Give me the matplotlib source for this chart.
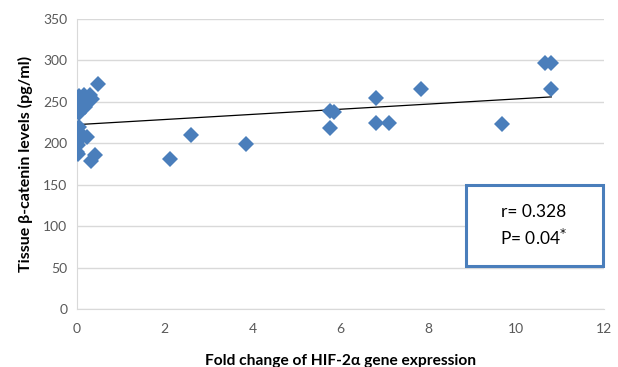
import numpy as np
import matplotlib
matplotlib.use('Agg')
import matplotlib.pyplot as plt
from matplotlib.patches import Rectangle

plt.rcParams['font.family'] = ['Lato', 'DejaVu Sans']

# Fold change of HIF-2a expression vs tissue beta-catenin (pg/ml)
fold_change = [0.48, 0.05, 0.15, 0.30, 0.35, 0.25, 0.12, 0.05, 0.18, 0.02, 0.05,
               0.05, 0.02, 0.08, 0.22, 0.00, 0.02, 0.00, 0.03, 0.40, 0.33,
               2.12, 2.60, 3.84, 5.75, 5.85, 5.75, 6.80, 6.80, 7.10, 7.83,
               9.68, 10.65, 10.80, 10.80]
beta_catenin = [272, 257, 258, 258, 254, 252, 250, 246, 244, 240, 236,
                220, 215, 210, 207, 202, 198, 190, 187, 186, 179,
                181, 210, 199, 239, 238, 219, 255, 225, 224, 265,
                223, 297, 297, 265]

trend_intercept = 222.5
trend_slope = 3.1

r_text = 'r= 0.328'
p_text = 'P= 0.04$^{*}$'

fig = plt.figure(figsize=(6.18, 3.67), dpi=100)
ax = fig.add_axes([77 / 618, 1 - 309 / 367, 527 / 618, 290 / 367])

ax.plot(fold_change, beta_catenin, 'D', color='#4a7ebb', markersize=8,
        markeredgewidth=0, zorder=3)

tx = np.array([min(fold_change), max(fold_change)])
ax.plot(tx, trend_intercept + trend_slope * tx, color='black', linewidth=0.9, zorder=2)

ax.set_xlim(0, 12)
ax.set_ylim(0, 350)
ax.set_xticks(range(0, 13, 2))
ax.set_yticks(range(0, 351, 50))
ax.grid(True, axis='y', color='#d9d9d9', linewidth=1)
ax.set_axisbelow(True)
for s in ['top', 'right']:
    ax.spines[s].set_visible(False)
ax.spines['left'].set_color('#d9d9d9')
ax.spines['bottom'].set_color('#d9d9d9')
ax.tick_params(length=0, labelsize=10, labelcolor='#595959')
ax.tick_params(axis='x', pad=10)
ax.tick_params(axis='y', pad=7)

ax.set_xlabel('Fold change of HIF-2α gene expression', fontsize=11.2, fontweight='bold', labelpad=14)
ax.set_ylabel('Tissue β-catenin levels (pg/ml)', fontsize=11.5, fontweight='bold', labelpad=7)

# stats box
fig.patches.append(Rectangle((466 / 618, 1 - 266 / 367), 137 / 618, 81 / 367,
                             transform=fig.transFigure, facecolor='white',
                             edgecolor='#4a7ebb', linewidth=2.2, zorder=5))
fig.text(534 / 618, 1 - 212 / 367, r_text, ha='center', va='center', fontsize=12.5, zorder=6)
fig.text(534 / 618, 1 - 238 / 367, p_text, ha='center', va='center', fontsize=12.5, zorder=6)

fig.savefig('out.png', dpi=100)
